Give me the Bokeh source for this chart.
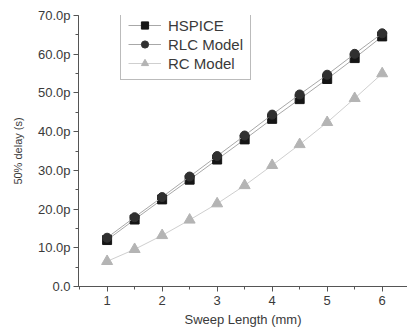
from bokeh.plotting import figure
from bokeh.models import Range1d, Legend, LegendItem, SingleIntervalTicker
from bokeh.embed import file_html
from bokeh.resources import INLINE

sweep_length = [1, 1.5, 2, 2.5, 3, 3.5, 4, 4.5, 5, 5.5, 6]
hspice = [12.0, 17.3, 22.5, 27.6, 32.8, 38.0, 43.3, 48.4, 53.6, 59.0, 64.6]
rlc_model = [12.6, 17.9, 23.1, 28.4, 33.7, 39.0, 44.4, 49.6, 54.7, 60.1, 65.4]
rc_model = [6.5, 9.6, 13.2, 17.2, 21.4, 26.1, 31.3, 36.7, 42.4, 48.6, 55.0]

y_ticks = [0, 10, 20, 30, 40, 50, 60, 70]
y_tick_labels = ["0.0", "10.0p", "20.0p", "30.0p", "40.0p", "50.0p", "60.0p", "70.0p"]

FONT = "Liberation Sans"
AX = "#555555"
TXT = "#3a3a3a"

p = figure(width=407, height=331, output_backend="svg", toolbar_location=None,
           x_range=Range1d(0.48, 6.46), y_range=Range1d(0, 70),
           min_border_left=78, min_border_right=0, min_border_top=15, min_border_bottom=45)
p.outline_line_color = None
p.xgrid.visible = False
p.ygrid.visible = False
p.background_fill_color = "white"

# series
l1 = p.line(sweep_length, hspice, line_color="#a8a8a8", line_width=1)
s1 = p.scatter(sweep_length, hspice, marker="square", size=9, fill_color="#151515", line_color="#151515")
l2 = p.line(sweep_length, rlc_model, line_color="#a8a8a8", line_width=1)
s2 = p.scatter(sweep_length, rlc_model, marker="circle", size=9, fill_color="#303030", line_color="#303030")
l3 = p.line(sweep_length, rc_model, line_color="#cfcfcf", line_width=1)
s3 = p.scatter(sweep_length, rc_model, marker="triangle", size=11, fill_color="#b4b4b4", line_color="#b4b4b4")

legend = Legend(items=[LegendItem(label="HSPICE", renderers=[l1, s1]),
                       LegendItem(label="RLC Model", renderers=[l2, s2]),
                       LegendItem(label="RC Model", renderers=[l3, s3])],
                location=(42, 206), margin=0, padding=7, spacing=1,
                glyph_width=33, glyph_height=18, label_standoff=7,
                label_text_font=FONT, label_text_font_size="15px", label_text_color=TXT,
                border_line_color="#777777", border_line_width=1,
                background_fill_alpha=1)
p.add_layout(legend, "center")

for ax in (p.xaxis, p.yaxis):
    ax.axis_line_color = AX
    ax.major_tick_line_color = AX
    ax.minor_tick_line_color = AX
    ax.major_tick_in = 0
    ax.major_tick_out = 5
    ax.minor_tick_in = 0
    ax.minor_tick_out = 3
    ax.major_label_text_font = FONT
    ax.major_label_text_font_size = "13px"
    ax.major_label_text_color = TXT
    ax.axis_label_text_font = FONT
    ax.axis_label_text_font_style = "normal"
    ax.axis_label_text_color = TXT

p.yaxis.ticker = SingleIntervalTicker(interval=10, num_minor_ticks=2)
p.yaxis.major_label_overrides = {t: l for t, l in zip(y_ticks, y_tick_labels)}
p.yaxis.axis_label = "50% delay (s)"
p.yaxis.axis_label_text_font_size = "11px"
p.yaxis.axis_label_standoff = 11
p.yaxis.major_label_standoff = 3

p.xaxis.ticker = SingleIntervalTicker(interval=1, num_minor_ticks=2)
p.xaxis.axis_label = "Sweep Length (mm)"
p.xaxis.axis_label_text_font_size = "13px"
p.xaxis.axis_label_standoff = 4
p.xaxis.major_label_standoff = 4

open("out.html", "w").write(file_html(p, INLINE))
